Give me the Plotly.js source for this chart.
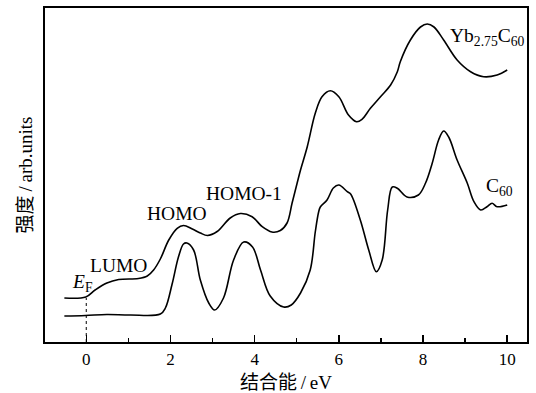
<!DOCTYPE html>
<html>
<head>
<meta charset="utf-8">
<script src="https://cdn.plot.ly/plotly-3.0.1.min.js"></script>
<style>html,body{margin:0;padding:0;background:#fff;}#chart{width:536px;height:393px;}</style>
</head>
<body>
<div id="chart"></div>
<script>
// Binding energy (eV) and intensity (arb. units)
const energyYb = [-0.52,-0.01,0.21,0.49,0.77,1.24,1.45,1.60,1.76,1.96,2.16,2.31,2.52,2.71,2.88,3.11,3.42,3.66,3.94,4.18,4.41,4.61,4.77,4.89,5.01,5.09,5.25,5.44,5.60,5.80,6.00,6.23,6.42,6.55,6.75,6.99,7.23,7.39,7.46,7.70,7.94,8.10,8.26,8.49,8.81,9.13,9.44,9.76,10.00];
const intensityYb = [44,45,52,59,62.5,63.5,66,72,83,102,113.7,116.5,113,109,106.5,110.5,124,128.5,125.3,115.3,110,111.5,119,139,159,172,195.3,228.7,245.3,251.3,245.3,227,220.3,222.7,233.7,245.3,257,270.3,280.3,302,315,318,315,302,282,270.3,265.3,267,272];

const energyC60 = [-0.52,-0.02,0.49,1.05,1.76,1.88,2.04,2.19,2.31,2.39,2.55,2.71,2.91,3.05,3.26,3.50,3.74,3.95,4.14,4.37,4.69,4.87,5.09,5.32,5.44,5.52,5.56,5.72,5.87,6.00,6.20,6.28,6.51,6.71,6.89,7.03,7.16,7.27,7.39,7.62,7.89,8.06,8.22,8.37,8.49,8.61,8.81,9.05,9.21,9.37,9.52,9.64,9.76,10.00];
const intensityC60 = [26,26.5,27.5,27,28,34,58,85,98,99,92,62,39,32,44,82,100,95,72,46,35,37,49,72,110,130,135,142,154,157,150.3,148,122,92,70.3,82,132,155,153.7,145,147,159,179,202,211,205,182,159,140.3,132,135.3,138.7,135.3,137];

const fermiX = [0, 0];
const fermiY = [0, 44];

const xTickVals = [0, 2, 4, 6, 8, 10];
const xTickText = ['0', '2', '4', '6', '8', '10'];

const labelText = ['LUMO', 'HOMO', 'HOMO-1', '<i>E</i><sub>F</sub>', 'Yb<sub>2.75</sub>C<sub>60</sub>', 'C<sub>60</sub>'];
const labelX = [0.76, 2.16, 3.75, -0.1, 8.6, 9.44];
const labelY = [77, 129, 149, 59, 305, 155];
const labelAnchor = ['center', 'center', 'center', 'center', 'left', 'left'];

const serif = 'Liberation Serif, Times New Roman, Noto Sans CJK SC, serif';

const traces = [
  {x: energyYb, y: intensityYb, mode: 'lines', line: {color: '#000', width: 1.6, shape: 'spline', smoothing: 1}, hoverinfo: 'skip'},
  {x: energyC60, y: intensityC60, mode: 'lines', line: {color: '#000', width: 1.6, shape: 'spline', smoothing: 1}, hoverinfo: 'skip'},
  {x: fermiX, y: fermiY, mode: 'lines', line: {color: '#000', width: 1, dash: 'dot'}, hoverinfo: 'skip'}
];

const annotations = labelText.map((t, i) => ({
  x: labelX[i], y: labelY[i], xref: 'x', yref: 'y', text: t, showarrow: false,
  xanchor: labelAnchor[i], yanchor: 'middle',
  font: {family: serif, size: 19.5, color: '#000'}
}));

const layout = {
  width: 536, height: 393,
  margin: {l: 45, r: 9, t: 8, b: 51},
  paper_bgcolor: '#fff', plot_bgcolor: '#fff',
  showlegend: false,
  font: {family: serif, color: '#000'},
  xaxis: {
    range: [-0.98, 10.47], showgrid: false, zeroline: false,
    showline: true, linecolor: '#000', linewidth: 2, mirror: true,
    ticks: 'inside', ticklen: 7, tickwidth: 1.5, tickcolor: '#000',
    tickvals: xTickVals, ticktext: xTickText,
    ticklabelstandoff: 1,
    tickfont: {family: serif, size: 17, color: '#000'},
    minor: {ticks: 'inside', ticklen: 4, tickwidth: 1.5, tickcolor: '#000', dtick: 1, tick0: 0},
    title: {text: '结合能\u2009/\u2009eV', font: {family: serif, size: 19, color: '#000'}, standoff: 8}
  },
  yaxis: {
    range: [0, 334], showgrid: false, zeroline: false,
    showline: true, linecolor: '#000', linewidth: 2, mirror: true,
    ticks: '', showticklabels: false,
    title: {text: '强度\u2009/\u2009arb.units', font: {family: serif, size: 19, color: '#000'}, standoff: 5}
  },
  annotations: annotations
};

Plotly.newPlot('chart', traces, layout, {staticPlot: true, displayModeBar: false});
</script>
</body>
</html>
